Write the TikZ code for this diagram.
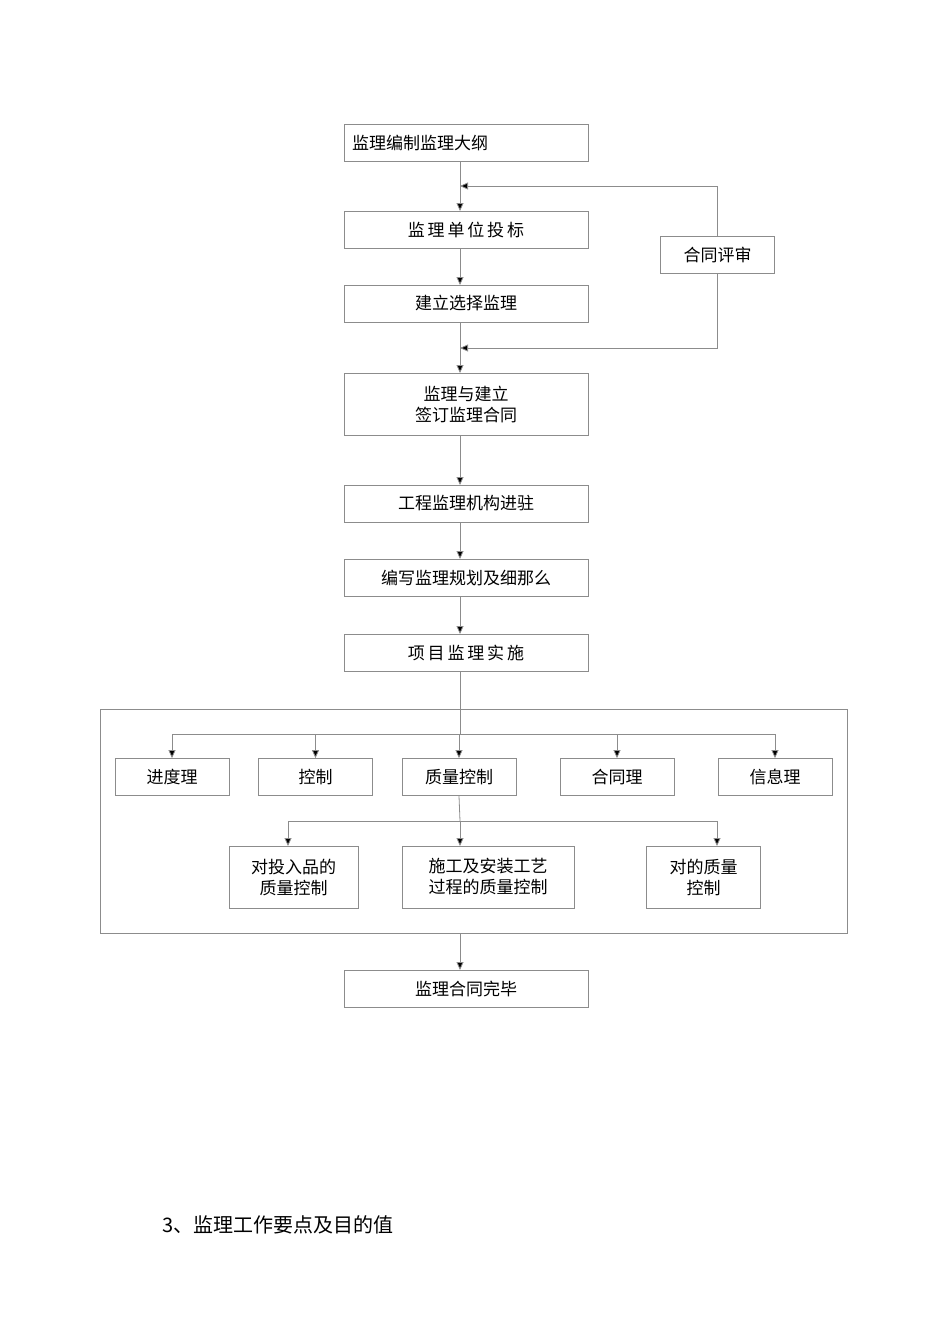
\documentclass[tikz,border=0pt]{standalone}
\usepackage{fontspec}
\setmainfont{Noto Sans CJK SC}
\usetikzlibrary{positioning,arrows.meta}
\tikzset{
  stepbox/.style={draw=black!45,minimum width=122pt,minimum height=18.5pt,inner sep=1pt,align=center,font=\fontsize{8.5pt}{10.5pt}\selectfont},
  smallbox/.style={stepbox,minimum width=57pt},
  flow/.style={draw=black!45,-{Triangle[length=4pt,width=3.5pt,fill=black]}},
  plain/.style={draw=black!45},
}
\begin{document}
\begin{tikzpicture}[x=0.5pt,y=-0.5pt]
\useasboundingbox (0,0) rectangle (950,1344);
%the nodes
\node[stepbox,text width=114pt,align=left] (bA) at (466,142.5) {监理编制监理大纲};
\node[stepbox] (bB) at (466,229.5) {监\,理\,单\,位\,投\,标};
\node[smallbox] (rev) at (717.5,254.5) {合同评审};
\node[stepbox] (bC) at (466,303.5) {建立选择监理};
\node[stepbox,minimum height=31pt] (bD) at (466,404) {监理与建立\\签订监理合同};
\node[stepbox] (bE) at (466,503.5) {工程监理机构进驻};
\node[stepbox] (bF) at (466,577.5) {编写监理规划及细那么};
\node[stepbox] (bG) at (466,652.5) {项\,目\,监\,理\,实\,施};
\node[draw=black!45,minimum width=373.5pt,minimum height=112pt] (frame) at (473.5,821) {};
\node[smallbox] (cA) at (172,777) {进度理};
\node[smallbox] (cB) at (315.5,777) {控制};
\node[smallbox] (cC) at (459,777) {质量控制};
\node[smallbox] (cD) at (617,777) {合同理};
\node[smallbox] (cE) at (775,777) {信息理};
\node[smallbox,minimum width=64.5pt,minimum height=31pt] (dA) at (293.5,877) {对投入品的\\质量控制};
\node[smallbox,minimum width=86pt,minimum height=31pt] (dB) at (488,877) {施工及安装工艺\\过程的质量控制};
\node[smallbox,minimum height=31pt] (dC) at (703.5,877) {对的质量\\控制};
\node[stepbox] (bH) at (466,988.5) {监理合同完毕};
\node[anchor=west,font=\fontsize{10pt}{12pt}\selectfont] (sec) at (155,1225) {3、监理工作要点及目的值};
\coordinate (topJ) at (460,186);
\coordinate (midJ) at (460,348);
\coordinate (rowJ) at (460,734);
\coordinate (subJ) at (460,821);
%drawings of vectors
\draw[flow] (460,161) -- (460,211);
\draw[flow] (rev.north) |- (topJ);
\draw[flow] (rev.south) |- (midJ);
\draw[flow] (460,248) -- (460,285);
\draw[plain] (460,322) -- (midJ);
\draw[flow] (midJ) -- (460,373);
\draw[flow] (460,435) -- (460,485);
\draw[flow] (460,522) -- (460,559);
\draw[flow] (460,596) -- (460,634);
\draw[plain] (460,671) -- (rowJ);
\draw[plain] (cA.north |- rowJ) -- (cE.north |- rowJ);
\foreach \n in {cA,cB,cC,cD,cE}
  \draw[flow] (\n.north |- rowJ) -- (\n.north);
\draw[plain] (cC.south) -- (subJ);
\draw[plain] (288,821) -- (717,821);
\draw[flow] (288,821) -- (288,846);
\draw[flow] (subJ) -- (460,846);
\draw[flow] (717,821) -- (717,846);
\draw[flow] (frame.south -| bH.north) ++(-6,0) -- (460,970);
\end{tikzpicture}
\end{document}
